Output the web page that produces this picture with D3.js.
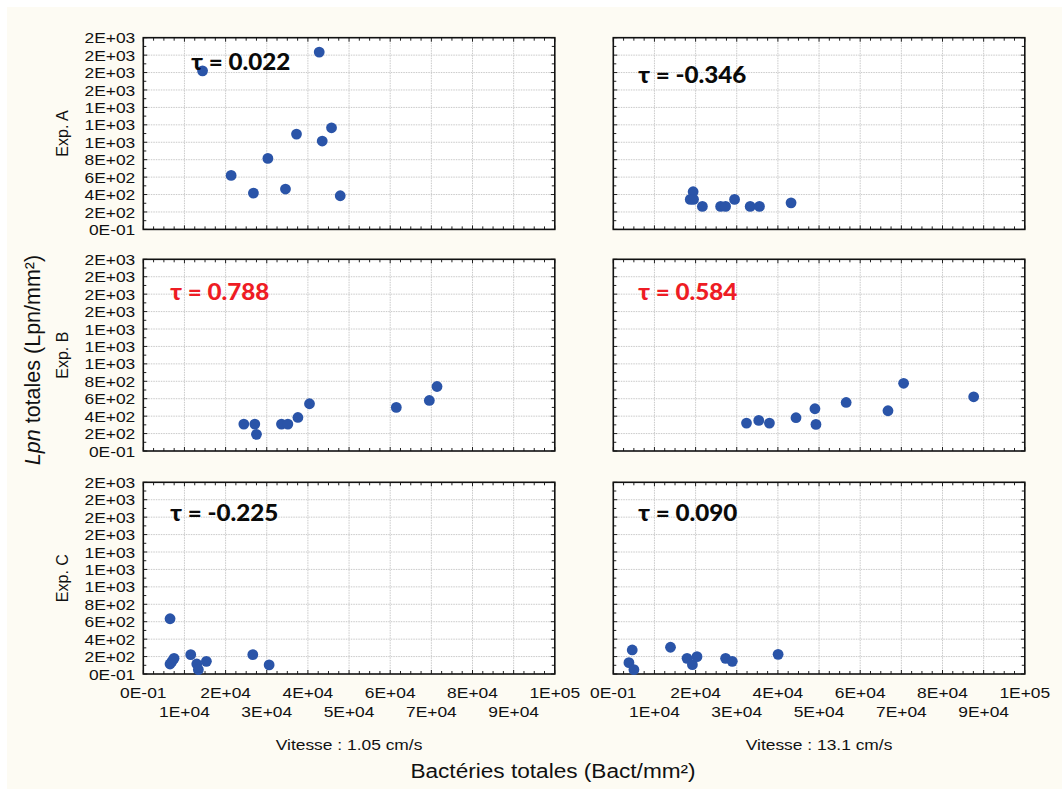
<!DOCTYPE html>
<html><head><meta charset="utf-8">
<script src="https://cdn.jsdelivr.net/npm/d3@7"></script>
<style>body{margin:0;background:#fff}svg{display:block}</style>
</head><body>
<svg id="c" width="1062" height="789"></svg>
<script>
// ---------- DATA ----------
const rowLabels = ["Exp. A", "Exp. B", "Exp. C"];
const colLabels = ["Vitesse : 1.05 cm/s", "Vitesse : 13.1 cm/s"];
const yTickValues = [0,200,400,600,800,1000,1200,1400,1600,1800,2000,2200];
const yTickLabels = ["0E-01","2E+02","4E+02","6E+02","8E+02","1E+03","1E+03","1E+03","2E+03","2E+03","2E+03","2E+03"];
const xTickValues = [0,10000,20000,30000,40000,50000,60000,70000,80000,90000,100000];
const xTickLabels = ["0E-01","1E+04","2E+04","3E+04","4E+04","5E+04","6E+04","7E+04","8E+04","9E+04","1E+05"];
const tauLabels = [["τ = 0.022","τ = -0.346"],["τ = 0.788","τ = 0.584"],["τ = -0.225","τ = 0.090"]];
const tauSignificant = [[false,false],[true,true],[false,false]];

// points [Bactéries totales, Lpn totales]
const expA_v1 = [[14400,1820],[42750,2035],[21340,620],[26760,417],[30270,815],[34550,463],[37230,1094],[43480,1014],[45740,1166],[47860,386]];
const expA_v2 = [[19400,432],[18700,344],[19500,344],[21650,264],[26080,264],[27290,264],[29470,344],[33270,264],[35520,264],[43200,305]];
const expB_v1 = [[24430,309],[27100,309],[27500,191],[33580,309],[35130,309],[37570,385],[40390,542],[61480,500],[69510,580],[71380,740]];
const expB_v2 = [[32370,320],[35350,351],[37940,320],[44400,382],[49000,485],[49250,305],[56590,557],[66750,462],[70550,777],[87580,622]];
const expC_v1 = [[6500,634],[6500,115],[6980,145],[7470,180],[11530,222],[12990,115],[13380,50],[15330,145],[26610,222],[30580,104]];
const expC_v2 = [[4600,276],[3800,130],[5010,50],[13900,307],[17920,180],[19220,107],[20340,199],[27290,180],[28910,145],[40050,226]];
const panels = [[expA_v1, expA_v2],[expB_v1, expB_v2],[expC_v1, expC_v2]];

// ---------- LAYOUT ----------
const colX = [143.3, 613.3], panelW = 411.5;
const rowY = [37.7, 259.3, 482.3], panelH = 191.7;
const SX = 1.16; // horizontal stretch of the original picture's text
const tauOffset = [[[48,32],[25,45]],[[27,41],[25,41]],[[27,39],[25,39]]];
const FONT = "'Liberation Sans', Arial, sans-serif";
const dotColor = "#2a54a8";

const svg = d3.select("#c");
svg.append("rect").attr("x",7).attr("y",7).attr("width",1055).attr("height",782).attr("fill","#fdfbf3");

function sText(g, x, y, txt, opt) {
  return g.append("text")
    .attr("transform", `translate(${x},${y}) scale(${opt.sx ?? SX},1)`)
    .attr("text-anchor", opt.anchor || "middle")
    .attr("dominant-baseline", opt.baseline || "auto")
    .attr("font-family", opt.family || FONT)
    .attr("font-size", opt.size || 15)
    .attr("font-weight", opt.weight || "normal")
    .attr("fill", opt.fill || "#111")
    .text(txt);
}

const x0 = d3.scaleLinear().domain([0,100000]).range([0,panelW]);
const y0 = d3.scaleLinear().domain([0,2200]).range([panelH,0]);
const xMinor = d3.range(0,100001,2500);
const yMinor = d3.range(0,2201,100);

panels.forEach((row, ri) => {
  row.forEach((pts, ci) => {
    const g = svg.append("g").attr("transform", `translate(${colX[ci]},${rowY[ri]})`);
    g.append("rect").attr("width",panelW).attr("height",panelH).attr("fill","#fff");
    // grid
    g.append("g").selectAll("line").data(xTickValues.slice(1,-1)).join("line")
      .attr("x1",d=>x0(d)).attr("x2",d=>x0(d)).attr("y1",0).attr("y2",panelH)
      .attr("stroke","#c9c9c9").attr("stroke-width",1).attr("stroke-dasharray","1.5,1");
    g.append("g").selectAll("line").data(yTickValues.slice(1,-1)).join("line")
      .attr("y1",d=>y0(d)).attr("y2",d=>y0(d)).attr("x1",0).attr("x2",panelW)
      .attr("stroke","#c9c9c9").attr("stroke-width",1).attr("stroke-dasharray","1.5,1");
    // inward ticks on all sides
    const tk = g.append("g").attr("stroke","#222").attr("stroke-width",1);
    xMinor.forEach(v => {
      const L = v % 10000 === 0 ? 4 : 3;
      tk.append("line").attr("x1",x0(v)).attr("x2",x0(v)).attr("y1",0).attr("y2",L);
      tk.append("line").attr("x1",x0(v)).attr("x2",x0(v)).attr("y1",panelH).attr("y2",panelH-L);
    });
    yMinor.forEach(v => {
      const L = v % 200 === 0 ? 4 : 3;
      tk.append("line").attr("y1",y0(v)).attr("y2",y0(v)).attr("x1",0).attr("x2",L);
      tk.append("line").attr("y1",y0(v)).attr("y2",y0(v)).attr("x1",panelW).attr("x2",panelW-L);
    });
    // border
    g.append("rect").attr("width",panelW).attr("height",panelH).attr("fill","none")
      .attr("stroke","#111").attr("stroke-width",1.6);
    // y tick labels
    if (ci === 0) {
      yTickValues.forEach((v,i) => sText(g, -8, y0(v), yTickLabels[i], {anchor:"end", baseline:"central"}));
      svg.append("text")
        .attr("transform", `translate(62,${rowY[ri]+panelH/2}) rotate(-90)`)
        .attr("text-anchor","middle").attr("dominant-baseline","central")
        .attr("font-family",FONT).attr("font-size",16).attr("fill","#111")
        .text(rowLabels[ri]);
    }
    // x tick labels
    if (ri === 2) {
      xTickValues.forEach((v,i) => sText(g, x0(v), panelH + (i%2===0 ? 18.5 : 37.5), xTickLabels[i], {baseline:"central"}));
      sText(svg, colX[ci]+panelW/2, 750, colLabels[ci], {size:15});
    }
    // points
    g.append("g").selectAll("circle").data(pts).join("circle")
      .attr("cx",d=>x0(d[0])).attr("cy",d=>y0(d[1])).attr("r",5.4)
      .attr("fill",dotColor);
    // tau
    sText(g, tauOffset[ri][ci][0], tauOffset[ri][ci][1], tauLabels[ri][ci], {
      anchor:"start", family:"Lato, 'Open Sans', sans-serif", size:22, weight:"900",
      fill: tauSignificant[ri][ci] ? "#ee1c24" : "#0a0a0a", sx:1.1});
  });
});

// axis titles
sText(svg, 553, 778, "Bactéries totales (Bact/mm²)", {size:19.5});
const yt = svg.append("text")
  .attr("transform","translate(40,360) rotate(-90)")
  .attr("text-anchor","middle")
  .attr("font-family",FONT).attr("font-size",21.5).attr("fill","#111");
yt.append("tspan").attr("font-style","italic").text("Lpn");
yt.append("tspan").text(" totales (Lpn/mm²)");
</script>
</body></html>
